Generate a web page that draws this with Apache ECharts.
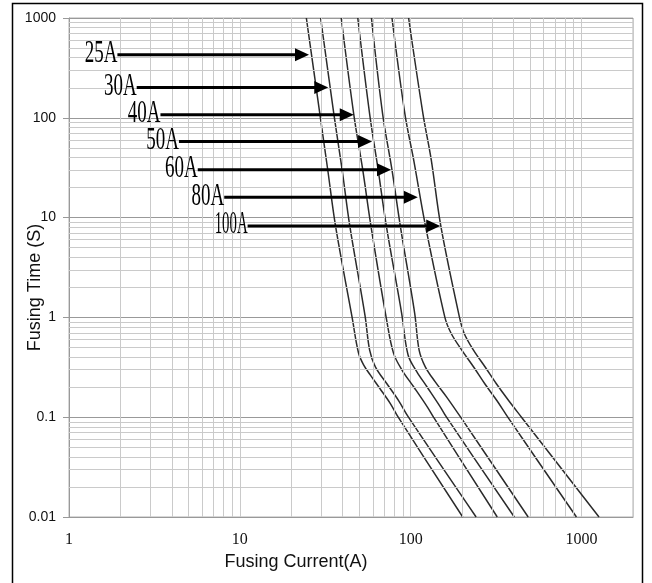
<!DOCTYPE html>
<html>
<head>
<meta charset="utf-8">
<script src="https://cdn.jsdelivr.net/npm/echarts@6/dist/echarts.min.js"></script>
<style>
html,body{margin:0;padding:0;background:#fff;}
#main{width:652px;height:583px;}
</style>
</head>
<body>
<div id="main"></div>
<script>
// ---- axis tick labels ----
const xTickLabels = ['1', '10', '100', '1000'];
const yTickLabels = ['0.01', '0.1', '1', '10', '100', '1000'];
const minorMultipliers = [2, 3, 4, 5, 6, 7, 8, 9];
const xMinorDecades = [1, 10, 100];
const yMinorDecades = [0.01, 0.1, 1, 10, 100];

// ---- fuse curves: [current (A), time (s)] ----
const curve25A = [[24.5,1000],[29.4,109],[32.7,30],[36.3,8.26],[45.4,1],[49.5,0.44],[53.1,0.333],[58.1,0.264],[66,0.194],[76,0.137],[84.5,0.1],[201.6,0.01]];
const curve30A = [[29.7,1000],[35.5,109],[39.7,30],[44,8.26],[54,1.05],[57.5,0.47],[62.1,0.32],[72.7,0.215],[85.1,0.146],[97,0.1],[241.4,0.01]];
const curve40A = [[39.2,1000],[46.4,109],[52.4,30],[58.5,8.26],[72.6,0.9],[79.4,0.436],[88.9,0.297],[104,0.202],[125,0.127],[136,0.1],[321,0.01]];
const curve50A = [[49,1000],[57.5,109],[64.5,30],[72,8.26],[88.5,1.1],[96.5,0.42],[108.7,0.285],[124.4,0.202],[148.9,0.127],[162,0.1],[404,0.01]];
const curve60A = [[58.9,1000],[68.5,109],[77.7,30],[86.9,8.26],[105.5,1.1],[112,0.47],[121.7,0.32],[139.2,0.226],[162,0.16],[196,0.1],[487,0.01]];
const curve80A = [[77.7,1000],[92.5,109],[104,38],[122,8.26],[158.5,1],[172.6,0.69],[199,0.47],[233,0.32],[272,0.215],[320,0.146],[370,0.1],[933,0.01]];
const curve100A = [[97.2,1000],[118,109],[131.9,37.9],[150,8.26],[193,1],[205.6,0.69],[233,0.47],[272,0.32],[318,0.215],[375,0.146],[445,0.1],[1265,0.01]];

const seriesNames = ['25A', '30A', '40A', '50A', '60A', '80A', '100A'];
const seriesData = [curve25A, curve30A, curve40A, curve50A, curve60A, curve80A, curve100A];

// ---- arrow annotations ----
const annoLabels = ['25A', '30A', '40A', '50A', '60A', '80A', '100A'];
const annoTime   = [428, 201, 107, 57.8, 30.1, 16.0, 8.26];
const annoStart  = [1.92, 2.49, 3.43, 4.40, 5.67, 8.1, 11.1];
const annoTip    = [25.4, 32.9, 46.4, 59.4, 76.7, 110, 148.9];

function matchLabel(v, labels) {
  for (const l of labels) {
    if (Math.abs(Math.log10(v) - Math.log10(parseFloat(l))) < 1e-6) return l;
  }
  return '';
}

const chart = echarts.init(document.getElementById('main'), null, {renderer: 'canvas'});

const gridLines = [];
for (const d of xMinorDecades) for (const m of minorMultipliers) gridLines.push({xAxis: d * m});
for (const d of yMinorDecades) for (const m of minorMultipliers) gridLines.push({yAxis: d * m});

const series = [{
  type: 'line',
  name: 'grid',
  data: [],
  z: 1,
  silent: true,
  markLine: {
    silent: true,
    animation: false,
    symbol: ['none', 'none'],
    label: {show: false},
    lineStyle: {color: '#cacaca', type: 'solid', width: 1},
    emphasis: {disabled: true},
    data: gridLines
  }
}];
seriesData.forEach((d, i) => {
  series.push({
    type: 'line',
    name: seriesNames[i],
    data: d,
    z: 3,
    showSymbol: false,
    smooth: 0.35,
    lineStyle: {color: '#2b2b2b', width: 1.5},
    silent: true
  });
});

chart.setOption({
  animation: false,
  backgroundColor: '#fff',
  grid: {left: 69, right: 19, top: 18, bottom: 66, show: true, borderColor: '#b0b0b0', borderWidth: 1,
         containLabel: false, outerBoundsMode: 'none'},
  xAxis: {
    type: 'log', logBase: 10, min: 1, max: 2000,
    name: 'Fusing Current(A)', nameLocation: 'middle', nameGap: 36, nameMoveOverlap: false,
    nameTextStyle: {fontFamily: 'Liberation Sans', fontSize: 18, color: '#111', padding: [0, 110, 0, 0]},
    axisLine: {show: true, lineStyle: {color: '#999'}},
    axisTick: {show: false},
    axisLabel: {
      fontFamily: 'Liberation Serif', fontSize: 16, color: '#111', margin: 15,
      formatter: v => matchLabel(v, xTickLabels)
    },
    splitLine: {show: true, lineStyle: {color: '#cacaca', width: 1}},
    minorTick: {show: false}
  },
  yAxis: {
    type: 'log', logBase: 10, min: 0.01, max: 1000,
    name: 'Fusing Time (S)', nameLocation: 'middle', nameGap: 25, nameMoveOverlap: false,
    nameTextStyle: {fontFamily: 'Liberation Sans', fontSize: 18, color: '#111', padding: [0, 40, 0, 0]},
    axisLine: {show: true, lineStyle: {color: '#999'}},
    axisTick: {show: true, length: 6, lineStyle: {color: '#999'}},
    axisLabel: {
      fontFamily: 'Liberation Sans', fontSize: 14, color: '#111', margin: 13,
      formatter: v => matchLabel(v, yTickLabels)
    },
    splitLine: {show: true, lineStyle: {color: '#999', width: 1}}
  },
  series: series
});

// annotations drawn through the axes' own scales
const els = [{
  type: 'rect', silent: true, z: 0,
  shape: {x: 12.5, y: 3.5, width: 630, height: 595},
  style: {fill: null, stroke: '#000', lineWidth: 1.5}
}];
annoLabels.forEach((lab, i) => {
  const p0 = chart.convertToPixel({gridIndex: 0}, [annoStart[i], annoTime[i]]);
  const p1 = chart.convertToPixel({gridIndex: 0}, [annoTip[i], annoTime[i]]);
  const headLen = 14, headHalf = 6.5;
  els.push({type: 'line', z: 10, silent: true,
    shape: {x1: p0[0], y1: p0[1], x2: p1[0] - headLen + 1, y2: p1[1]},
    style: {stroke: '#000', lineWidth: 3}});
  els.push({type: 'polygon', z: 10, silent: true,
    shape: {points: [[p1[0], p1[1]], [p1[0] - headLen, p1[1] - headHalf], [p1[0] - headLen, p1[1] + headHalf]]},
    style: {fill: '#000'}});
  els.push({type: 'text', z: 10, silent: true,
    x: p0[0], y: p0[1] - 1,
    scaleX: lab.length > 3 ? 0.78 : 1, scaleY: 1.7,
    style: {text: lab, font: '19px "Liberation Serif"', fill: '#000', align: 'right', verticalAlign: 'middle'}});
});
chart.setOption({graphic: {elements: els}});
</script>
</body>
</html>
